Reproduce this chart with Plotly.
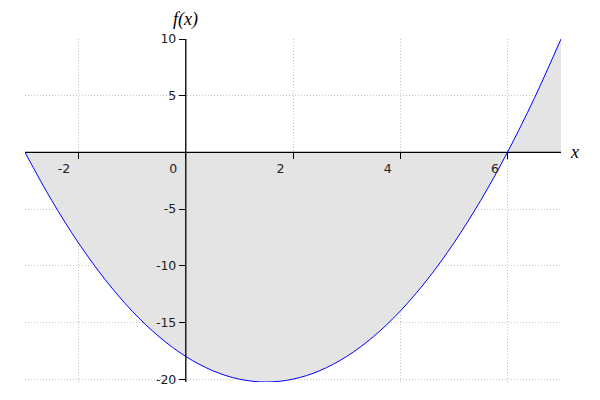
import plotly.graph_objects as go

# curve samples
x_vals = [-3, -2.5, -2, -1.5, -1, -0.5, 0, 0.5, 1, 1.5, 2, 2.5, 3, 3.5, 4, 4.5, 5, 5.5, 6, 6.5, 7]
y_vals = [0, -4.25, -8, -11.25, -14, -16.25, -18, -19.25, -20, -20.25, -20, -19.25, -18,
          -16.25, -14, -11.25, -8, -4.25, 0, 4.75, 10]

x_ticks = [-2, 0, 2, 4, 6]
x_tick_text = ["-2", "0", "2", "4", "6"]
y_ticks = [-20, -15, -10, -5, 5, 10]
y_tick_text = ["-20", "-15", "-10", "-5", "5", "10"]

x_range = [-3, 7]
y_range = [-20.25, 10]

fig = go.Figure()
fig.add_trace(go.Scatter(
    x=x_vals, y=y_vals, mode="lines",
    line=dict(color="#0000ff", width=1, shape="spline", smoothing=1.0),
    fill="tozeroy", fillcolor="#e4e4e4",
    showlegend=False, hoverinfo="skip",
))

xpos = (0 - y_range[0]) / (y_range[1] - y_range[0])
ypos = (0 - x_range[0]) / (x_range[1] - x_range[0])

tick_font = dict(family="DejaVu Sans", size=12.5, color="#222222")

fig.update_layout(
    width=600, height=400,
    margin=dict(l=17, r=47, t=31, b=26, autoexpand=False),
    paper_bgcolor="white", plot_bgcolor="white",
    xaxis=dict(
        range=x_range, tickvals=x_ticks, ticktext=x_tick_text,
        anchor="free", position=xpos, automargin=False,
        showline=False, zeroline=False,
        showgrid=True, gridcolor="#c4c4c4", griddash="1px,2px", gridwidth=1,
        ticks="outside", ticklen=6, tickcolor="#000000", tickwidth=1,
        ticklabelposition="outside left", ticklabelshift=-8, ticklabelstandoff=5,
        tickfont=tick_font,
    ),
    yaxis=dict(
        range=y_range, tickvals=y_ticks, ticktext=y_tick_text,
        anchor="free", position=ypos, automargin=False,
        showline=False, zeroline=False,
        showgrid=True, gridcolor="#c4c4c4", griddash="1px,2px", gridwidth=1,
        ticks="outside", ticklen=7, tickcolor="#000000", tickwidth=1,
        tickfont=tick_font,
    ),
    shapes=[
        dict(type="line", xref="x", yref="y", x0=x_range[0], x1=x_range[1], y0=0, y1=0,
             line=dict(color="#000000", width=1.3), layer="above"),
        dict(type="line", xref="x", yref="y", x0=0, x1=0, y0=y_range[0], y1=y_range[1],
             line=dict(color="#000000", width=1.3), layer="above"),
    ],
    annotations=[
        dict(text="<i>f(x)</i>", x=0, y=y_range[1], xref="x", yref="y",
             xanchor="center", yanchor="bottom", showarrow=False, yshift=7,
             font=dict(family="Liberation Serif", size=18, color="#000000")),
        dict(text="<i>x</i>", x=x_range[1], y=0, xref="x", yref="y",
             xanchor="left", yanchor="middle", showarrow=False, xshift=7,
             font=dict(family="Liberation Serif", size=18, color="#000000")),
    ],
)

fig.write_html("out.html")
